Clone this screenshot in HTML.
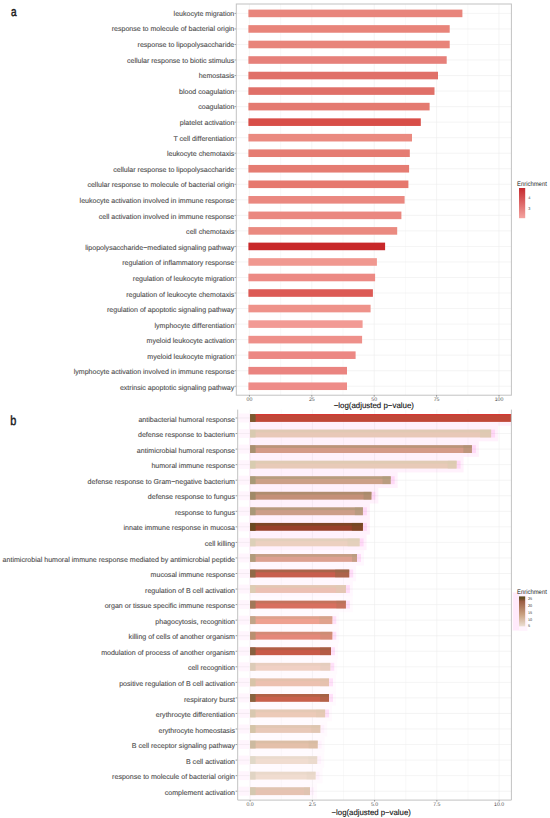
<!DOCTYPE html><html><head><meta charset="utf-8"><style>html,body{margin:0;padding:0;background:#fff;}svg{display:block;}text{font-family:"Liberation Sans",sans-serif;text-rendering:geometricPrecision;}</style></head><body>
<svg width="550" height="818" viewBox="0 0 550 818">
<rect x="0" y="0" width="550" height="818" fill="#fff"/>
<line x1="280.60" y1="4.0" x2="280.60" y2="395.2" stroke="#f3f3f3" stroke-width="0.5"/>
<line x1="343.00" y1="4.0" x2="343.00" y2="395.2" stroke="#f3f3f3" stroke-width="0.5"/>
<line x1="405.40" y1="4.0" x2="405.40" y2="395.2" stroke="#f3f3f3" stroke-width="0.5"/>
<line x1="467.80" y1="4.0" x2="467.80" y2="395.2" stroke="#f3f3f3" stroke-width="0.5"/>
<line x1="249.40" y1="4.0" x2="249.40" y2="395.2" stroke="#ededed" stroke-width="0.6"/>
<line x1="311.80" y1="4.0" x2="311.80" y2="395.2" stroke="#ededed" stroke-width="0.6"/>
<line x1="374.20" y1="4.0" x2="374.20" y2="395.2" stroke="#ededed" stroke-width="0.6"/>
<line x1="436.60" y1="4.0" x2="436.60" y2="395.2" stroke="#ededed" stroke-width="0.6"/>
<line x1="499.00" y1="4.0" x2="499.00" y2="395.2" stroke="#ededed" stroke-width="0.6"/>
<line x1="236.3" y1="13.40" x2="511.4" y2="13.40" stroke="#ededed" stroke-width="0.6"/>
<line x1="236.3" y1="28.94" x2="511.4" y2="28.94" stroke="#ededed" stroke-width="0.6"/>
<line x1="236.3" y1="44.47" x2="511.4" y2="44.47" stroke="#ededed" stroke-width="0.6"/>
<line x1="236.3" y1="60.01" x2="511.4" y2="60.01" stroke="#ededed" stroke-width="0.6"/>
<line x1="236.3" y1="75.54" x2="511.4" y2="75.54" stroke="#ededed" stroke-width="0.6"/>
<line x1="236.3" y1="91.08" x2="511.4" y2="91.08" stroke="#ededed" stroke-width="0.6"/>
<line x1="236.3" y1="106.61" x2="511.4" y2="106.61" stroke="#ededed" stroke-width="0.6"/>
<line x1="236.3" y1="122.15" x2="511.4" y2="122.15" stroke="#ededed" stroke-width="0.6"/>
<line x1="236.3" y1="137.68" x2="511.4" y2="137.68" stroke="#ededed" stroke-width="0.6"/>
<line x1="236.3" y1="153.22" x2="511.4" y2="153.22" stroke="#ededed" stroke-width="0.6"/>
<line x1="236.3" y1="168.75" x2="511.4" y2="168.75" stroke="#ededed" stroke-width="0.6"/>
<line x1="236.3" y1="184.28" x2="511.4" y2="184.28" stroke="#ededed" stroke-width="0.6"/>
<line x1="236.3" y1="199.82" x2="511.4" y2="199.82" stroke="#ededed" stroke-width="0.6"/>
<line x1="236.3" y1="215.36" x2="511.4" y2="215.36" stroke="#ededed" stroke-width="0.6"/>
<line x1="236.3" y1="230.89" x2="511.4" y2="230.89" stroke="#ededed" stroke-width="0.6"/>
<line x1="236.3" y1="246.43" x2="511.4" y2="246.43" stroke="#ededed" stroke-width="0.6"/>
<line x1="236.3" y1="261.96" x2="511.4" y2="261.96" stroke="#ededed" stroke-width="0.6"/>
<line x1="236.3" y1="277.50" x2="511.4" y2="277.50" stroke="#ededed" stroke-width="0.6"/>
<line x1="236.3" y1="293.03" x2="511.4" y2="293.03" stroke="#ededed" stroke-width="0.6"/>
<line x1="236.3" y1="308.56" x2="511.4" y2="308.56" stroke="#ededed" stroke-width="0.6"/>
<line x1="236.3" y1="324.10" x2="511.4" y2="324.10" stroke="#ededed" stroke-width="0.6"/>
<line x1="236.3" y1="339.63" x2="511.4" y2="339.63" stroke="#ededed" stroke-width="0.6"/>
<line x1="236.3" y1="355.17" x2="511.4" y2="355.17" stroke="#ededed" stroke-width="0.6"/>
<line x1="236.3" y1="370.70" x2="511.4" y2="370.70" stroke="#ededed" stroke-width="0.6"/>
<line x1="236.3" y1="386.24" x2="511.4" y2="386.24" stroke="#ededed" stroke-width="0.6"/>
<rect x="248.4" y="9.60" width="214.00" height="7.6" fill="#e8857c"/>
<text x="234.3" y="15.90" font-size="7.05" fill="#505050" stroke="#505050" stroke-width="0.12" text-anchor="end">leukocyte migration</text>
<line x1="234.6" y1="13.40" x2="236.3" y2="13.40" stroke="#333" stroke-width="0.5"/>
<rect x="248.4" y="25.14" width="201.30" height="7.6" fill="#e8847a"/>
<text x="234.3" y="31.49" font-size="7.05" fill="#505050" stroke="#505050" stroke-width="0.12" text-anchor="end">response to molecule of bacterial origin</text>
<line x1="234.6" y1="28.94" x2="236.3" y2="28.94" stroke="#333" stroke-width="0.5"/>
<rect x="248.4" y="40.67" width="201.30" height="7.6" fill="#e8847a"/>
<text x="234.3" y="47.08" font-size="7.05" fill="#505050" stroke="#505050" stroke-width="0.12" text-anchor="end">response to lipopolysaccharide</text>
<line x1="234.6" y1="44.47" x2="236.3" y2="44.47" stroke="#333" stroke-width="0.5"/>
<rect x="248.4" y="56.21" width="198.30" height="7.6" fill="#e6807a"/>
<text x="234.3" y="62.67" font-size="7.05" fill="#505050" stroke="#505050" stroke-width="0.12" text-anchor="end">cellular response to biotic stimulus</text>
<line x1="234.6" y1="60.01" x2="236.3" y2="60.01" stroke="#333" stroke-width="0.5"/>
<rect x="248.4" y="71.74" width="189.60" height="7.6" fill="#e07068"/>
<text x="234.3" y="78.26" font-size="7.05" fill="#505050" stroke="#505050" stroke-width="0.12" text-anchor="end">hemostasis</text>
<line x1="234.6" y1="75.54" x2="236.3" y2="75.54" stroke="#333" stroke-width="0.5"/>
<rect x="248.4" y="87.28" width="186.10" height="7.6" fill="#e07068"/>
<text x="234.3" y="93.84" font-size="7.05" fill="#505050" stroke="#505050" stroke-width="0.12" text-anchor="end">blood coagulation</text>
<line x1="234.6" y1="91.08" x2="236.3" y2="91.08" stroke="#333" stroke-width="0.5"/>
<rect x="248.4" y="102.81" width="181.20" height="7.6" fill="#e47a70"/>
<text x="234.3" y="109.43" font-size="7.05" fill="#505050" stroke="#505050" stroke-width="0.12" text-anchor="end">coagulation</text>
<line x1="234.6" y1="106.61" x2="236.3" y2="106.61" stroke="#333" stroke-width="0.5"/>
<rect x="248.4" y="118.35" width="172.40" height="7.6" fill="#d84e48"/>
<text x="234.3" y="125.02" font-size="7.05" fill="#505050" stroke="#505050" stroke-width="0.12" text-anchor="end">platelet activation</text>
<line x1="234.6" y1="122.15" x2="236.3" y2="122.15" stroke="#333" stroke-width="0.5"/>
<rect x="248.4" y="133.88" width="163.60" height="7.6" fill="#ea8a80"/>
<text x="234.3" y="140.61" font-size="7.05" fill="#505050" stroke="#505050" stroke-width="0.12" text-anchor="end">T cell differentiation</text>
<line x1="234.6" y1="137.68" x2="236.3" y2="137.68" stroke="#333" stroke-width="0.5"/>
<rect x="248.4" y="149.41" width="161.40" height="7.6" fill="#e57c72"/>
<text x="234.3" y="156.20" font-size="7.05" fill="#505050" stroke="#505050" stroke-width="0.12" text-anchor="end">leukocyte chemotaxis</text>
<line x1="234.6" y1="153.22" x2="236.3" y2="153.22" stroke="#333" stroke-width="0.5"/>
<rect x="248.4" y="164.95" width="160.70" height="7.6" fill="#e57c72"/>
<text x="234.3" y="171.79" font-size="7.05" fill="#505050" stroke="#505050" stroke-width="0.12" text-anchor="end">cellular response to lipopolysaccharide</text>
<line x1="234.6" y1="168.75" x2="236.3" y2="168.75" stroke="#333" stroke-width="0.5"/>
<rect x="248.4" y="180.48" width="160.00" height="7.6" fill="#e6786e"/>
<text x="234.3" y="187.38" font-size="7.05" fill="#505050" stroke="#505050" stroke-width="0.12" text-anchor="end">cellular response to molecule of bacterial origin</text>
<line x1="234.6" y1="184.28" x2="236.3" y2="184.28" stroke="#333" stroke-width="0.5"/>
<rect x="248.4" y="196.02" width="156.20" height="7.6" fill="#ea8880"/>
<text x="234.3" y="202.97" font-size="7.05" fill="#505050" stroke="#505050" stroke-width="0.12" text-anchor="end">leukocyte activation involved in immune response</text>
<line x1="234.6" y1="199.82" x2="236.3" y2="199.82" stroke="#333" stroke-width="0.5"/>
<rect x="248.4" y="211.56" width="153.00" height="7.6" fill="#ea8880"/>
<text x="234.3" y="218.56" font-size="7.05" fill="#505050" stroke="#505050" stroke-width="0.12" text-anchor="end">cell activation involved in immune response</text>
<line x1="234.6" y1="215.36" x2="236.3" y2="215.36" stroke="#333" stroke-width="0.5"/>
<rect x="248.4" y="227.09" width="148.80" height="7.6" fill="#ea8a80"/>
<text x="234.3" y="234.15" font-size="7.05" fill="#505050" stroke="#505050" stroke-width="0.12" text-anchor="end">cell chemotaxis</text>
<line x1="234.6" y1="230.89" x2="236.3" y2="230.89" stroke="#333" stroke-width="0.5"/>
<rect x="248.4" y="242.62" width="136.70" height="7.6" fill="#c8282a"/>
<text x="234.3" y="249.74" font-size="7.05" fill="#505050" stroke="#505050" stroke-width="0.12" text-anchor="end">lipopolysaccharide−mediated signaling pathway</text>
<line x1="234.6" y1="246.43" x2="236.3" y2="246.43" stroke="#333" stroke-width="0.5"/>
<rect x="248.4" y="258.16" width="128.50" height="7.6" fill="#f09890"/>
<text x="234.3" y="265.32" font-size="7.05" fill="#505050" stroke="#505050" stroke-width="0.12" text-anchor="end">regulation of inflammatory response</text>
<line x1="234.6" y1="261.96" x2="236.3" y2="261.96" stroke="#333" stroke-width="0.5"/>
<rect x="248.4" y="273.69" width="126.70" height="7.6" fill="#ec8a84"/>
<text x="234.3" y="280.91" font-size="7.05" fill="#505050" stroke="#505050" stroke-width="0.12" text-anchor="end">regulation of leukocyte migration</text>
<line x1="234.6" y1="277.50" x2="236.3" y2="277.50" stroke="#333" stroke-width="0.5"/>
<rect x="248.4" y="289.23" width="124.50" height="7.6" fill="#dc5a55"/>
<text x="234.3" y="296.50" font-size="7.05" fill="#505050" stroke="#505050" stroke-width="0.12" text-anchor="end">regulation of leukocyte chemotaxis</text>
<line x1="234.6" y1="293.03" x2="236.3" y2="293.03" stroke="#333" stroke-width="0.5"/>
<rect x="248.4" y="304.76" width="122.20" height="7.6" fill="#ee928a"/>
<text x="234.3" y="312.09" font-size="7.05" fill="#505050" stroke="#505050" stroke-width="0.12" text-anchor="end">regulation of apoptotic signaling pathway</text>
<line x1="234.6" y1="308.56" x2="236.3" y2="308.56" stroke="#333" stroke-width="0.5"/>
<rect x="248.4" y="320.30" width="114.20" height="7.6" fill="#f29a94"/>
<text x="234.3" y="327.68" font-size="7.05" fill="#505050" stroke="#505050" stroke-width="0.12" text-anchor="end">lymphocyte differentiation</text>
<line x1="234.6" y1="324.10" x2="236.3" y2="324.10" stroke="#333" stroke-width="0.5"/>
<rect x="248.4" y="335.83" width="113.70" height="7.6" fill="#ee908a"/>
<text x="234.3" y="343.27" font-size="7.05" fill="#505050" stroke="#505050" stroke-width="0.12" text-anchor="end">myeloid leukocyte activation</text>
<line x1="234.6" y1="339.63" x2="236.3" y2="339.63" stroke="#333" stroke-width="0.5"/>
<rect x="248.4" y="351.37" width="107.20" height="7.6" fill="#ec8884"/>
<text x="234.3" y="358.86" font-size="7.05" fill="#505050" stroke="#505050" stroke-width="0.12" text-anchor="end">myeloid leukocyte migration</text>
<line x1="234.6" y1="355.17" x2="236.3" y2="355.17" stroke="#333" stroke-width="0.5"/>
<rect x="248.4" y="366.90" width="98.60" height="7.6" fill="#ea8480"/>
<text x="234.3" y="374.45" font-size="7.05" fill="#505050" stroke="#505050" stroke-width="0.12" text-anchor="end">lymphocyte activation involved in immune response</text>
<line x1="234.6" y1="370.70" x2="236.3" y2="370.70" stroke="#333" stroke-width="0.5"/>
<rect x="248.4" y="382.44" width="98.60" height="7.6" fill="#ee8c88"/>
<text x="234.3" y="390.04" font-size="7.05" fill="#505050" stroke="#505050" stroke-width="0.12" text-anchor="end">extrinsic apoptotic signaling pathway</text>
<line x1="234.6" y1="386.24" x2="236.3" y2="386.24" stroke="#333" stroke-width="0.5"/>
<rect x="236.3" y="4.0" width="275.10" height="391.20" fill="none" stroke="#c2c2c2" stroke-width="1"/>
<line x1="249.40" y1="395.2" x2="249.40" y2="396.70" stroke="#333" stroke-width="0.5"/>
<text x="249.40" y="400.7" font-size="5.2" fill="#4d4d4d" text-anchor="middle">00</text>
<line x1="311.80" y1="395.2" x2="311.80" y2="396.70" stroke="#333" stroke-width="0.5"/>
<text x="311.80" y="400.7" font-size="5.2" fill="#4d4d4d" text-anchor="middle">25</text>
<line x1="374.20" y1="395.2" x2="374.20" y2="396.70" stroke="#333" stroke-width="0.5"/>
<text x="374.20" y="400.7" font-size="5.2" fill="#4d4d4d" text-anchor="middle">50</text>
<line x1="436.60" y1="395.2" x2="436.60" y2="396.70" stroke="#333" stroke-width="0.5"/>
<text x="436.60" y="400.7" font-size="5.2" fill="#4d4d4d" text-anchor="middle">75</text>
<line x1="499.00" y1="395.2" x2="499.00" y2="396.70" stroke="#333" stroke-width="0.5"/>
<text x="499.00" y="400.7" font-size="5.2" fill="#4d4d4d" text-anchor="middle">100</text>
<text x="373.8" y="408.3" font-size="7.9" fill="#111" stroke="#111" stroke-width="0.12" text-anchor="middle">−log(adjusted p−value)</text>
<defs><linearGradient id="ga" x1="0" y1="0" x2="0" y2="1"><stop offset="0" stop-color="#c62a2e"/><stop offset="1" stop-color="#f4a4a0"/></linearGradient>
<linearGradient id="gb" x1="0" y1="0" x2="0" y2="1"><stop offset="0" stop-color="#5a4a20"/><stop offset="0.08" stop-color="#6a4e26"/><stop offset="0.16" stop-color="#9a5c44"/><stop offset="0.6" stop-color="#c8a080"/><stop offset="1" stop-color="#ece0d4"/></linearGradient></defs>
<text x="517" y="186" font-size="6.5" fill="#222" textLength="29.8" lengthAdjust="spacingAndGlyphs">Enrichment</text>
<rect x="519" y="188" width="6.2" height="30.2" fill="url(#ga)"/>
<text x="528.3" y="198.6" font-size="3.8" fill="#333">4</text>
<text x="528.3" y="210.4" font-size="3.8" fill="#333">3</text>
<text x="0" y="15.6" font-size="12.8" fill="#1a1a1a" stroke="#1a1a1a" stroke-width="0.5" transform="translate(10.9,0) scale(0.78,1)">a</text>
<line x1="281.23" y1="409.6" x2="281.23" y2="800.1" stroke="#f3f3f3" stroke-width="0.5"/>
<line x1="343.48" y1="409.6" x2="343.48" y2="800.1" stroke="#f3f3f3" stroke-width="0.5"/>
<line x1="405.73" y1="409.6" x2="405.73" y2="800.1" stroke="#f3f3f3" stroke-width="0.5"/>
<line x1="467.98" y1="409.6" x2="467.98" y2="800.1" stroke="#f3f3f3" stroke-width="0.5"/>
<line x1="250.10" y1="409.6" x2="250.10" y2="800.1" stroke="#ededed" stroke-width="0.6"/>
<line x1="312.35" y1="409.6" x2="312.35" y2="800.1" stroke="#ededed" stroke-width="0.6"/>
<line x1="374.60" y1="409.6" x2="374.60" y2="800.1" stroke="#ededed" stroke-width="0.6"/>
<line x1="436.85" y1="409.6" x2="436.85" y2="800.1" stroke="#ededed" stroke-width="0.6"/>
<line x1="499.10" y1="409.6" x2="499.10" y2="800.1" stroke="#ededed" stroke-width="0.6"/>
<line x1="237.7" y1="418.00" x2="511.4" y2="418.00" stroke="#ededed" stroke-width="0.6"/>
<line x1="237.7" y1="433.55" x2="511.4" y2="433.55" stroke="#ededed" stroke-width="0.6"/>
<line x1="237.7" y1="449.10" x2="511.4" y2="449.10" stroke="#ededed" stroke-width="0.6"/>
<line x1="237.7" y1="464.65" x2="511.4" y2="464.65" stroke="#ededed" stroke-width="0.6"/>
<line x1="237.7" y1="480.20" x2="511.4" y2="480.20" stroke="#ededed" stroke-width="0.6"/>
<line x1="237.7" y1="495.75" x2="511.4" y2="495.75" stroke="#ededed" stroke-width="0.6"/>
<line x1="237.7" y1="511.30" x2="511.4" y2="511.30" stroke="#ededed" stroke-width="0.6"/>
<line x1="237.7" y1="526.85" x2="511.4" y2="526.85" stroke="#ededed" stroke-width="0.6"/>
<line x1="237.7" y1="542.40" x2="511.4" y2="542.40" stroke="#ededed" stroke-width="0.6"/>
<line x1="237.7" y1="557.95" x2="511.4" y2="557.95" stroke="#ededed" stroke-width="0.6"/>
<line x1="237.7" y1="573.50" x2="511.4" y2="573.50" stroke="#ededed" stroke-width="0.6"/>
<line x1="237.7" y1="589.05" x2="511.4" y2="589.05" stroke="#ededed" stroke-width="0.6"/>
<line x1="237.7" y1="604.60" x2="511.4" y2="604.60" stroke="#ededed" stroke-width="0.6"/>
<line x1="237.7" y1="620.15" x2="511.4" y2="620.15" stroke="#ededed" stroke-width="0.6"/>
<line x1="237.7" y1="635.70" x2="511.4" y2="635.70" stroke="#ededed" stroke-width="0.6"/>
<line x1="237.7" y1="651.25" x2="511.4" y2="651.25" stroke="#ededed" stroke-width="0.6"/>
<line x1="237.7" y1="666.80" x2="511.4" y2="666.80" stroke="#ededed" stroke-width="0.6"/>
<line x1="237.7" y1="682.35" x2="511.4" y2="682.35" stroke="#ededed" stroke-width="0.6"/>
<line x1="237.7" y1="697.90" x2="511.4" y2="697.90" stroke="#ededed" stroke-width="0.6"/>
<line x1="237.7" y1="713.45" x2="511.4" y2="713.45" stroke="#ededed" stroke-width="0.6"/>
<line x1="237.7" y1="729.00" x2="511.4" y2="729.00" stroke="#ededed" stroke-width="0.6"/>
<line x1="237.7" y1="744.55" x2="511.4" y2="744.55" stroke="#ededed" stroke-width="0.6"/>
<line x1="237.7" y1="760.10" x2="511.4" y2="760.10" stroke="#ededed" stroke-width="0.6"/>
<line x1="237.7" y1="775.65" x2="511.4" y2="775.65" stroke="#ededed" stroke-width="0.6"/>
<line x1="237.7" y1="791.20" x2="511.4" y2="791.20" stroke="#ededed" stroke-width="0.6"/>
<rect x="249.10" y="414.00" width="262.30" height="11.78" fill="#ff00d0" fill-opacity="0.055"/>
<rect x="238.70" y="413.50" width="10.40" height="9" fill="#ff00d0" fill-opacity="0.04"/>
<rect x="511.40" y="414.00" width="0.00" height="8" fill="#ff00d0" fill-opacity="0.1"/>
<rect x="249.10" y="425.78" width="249.00" height="15.55" fill="#ff00d0" fill-opacity="0.055"/>
<rect x="238.70" y="429.05" width="10.40" height="9" fill="#ff00d0" fill-opacity="0.04"/>
<rect x="491.10" y="429.55" width="4.00" height="8" fill="#ff00d0" fill-opacity="0.1"/>
<rect x="249.10" y="441.33" width="229.80" height="15.55" fill="#ff00d0" fill-opacity="0.055"/>
<rect x="238.70" y="444.60" width="10.40" height="9" fill="#ff00d0" fill-opacity="0.04"/>
<rect x="471.90" y="445.10" width="4.00" height="8" fill="#ff00d0" fill-opacity="0.1"/>
<rect x="249.10" y="456.88" width="214.50" height="15.55" fill="#ff00d0" fill-opacity="0.055"/>
<rect x="238.70" y="460.15" width="10.40" height="9" fill="#ff00d0" fill-opacity="0.04"/>
<rect x="456.60" y="460.65" width="4.00" height="8" fill="#ff00d0" fill-opacity="0.1"/>
<rect x="249.10" y="472.43" width="148.60" height="15.55" fill="#ff00d0" fill-opacity="0.055"/>
<rect x="238.70" y="475.70" width="10.40" height="9" fill="#ff00d0" fill-opacity="0.04"/>
<rect x="390.70" y="476.20" width="4.00" height="8" fill="#ff00d0" fill-opacity="0.1"/>
<rect x="249.10" y="487.98" width="129.30" height="15.55" fill="#ff00d0" fill-opacity="0.055"/>
<rect x="238.70" y="491.25" width="10.40" height="9" fill="#ff00d0" fill-opacity="0.04"/>
<rect x="371.40" y="491.75" width="4.00" height="8" fill="#ff00d0" fill-opacity="0.1"/>
<rect x="249.10" y="503.53" width="120.80" height="15.55" fill="#ff00d0" fill-opacity="0.055"/>
<rect x="238.70" y="506.80" width="10.40" height="9" fill="#ff00d0" fill-opacity="0.04"/>
<rect x="362.90" y="507.30" width="4.00" height="8" fill="#ff00d0" fill-opacity="0.1"/>
<rect x="249.10" y="519.08" width="120.80" height="15.55" fill="#ff00d0" fill-opacity="0.055"/>
<rect x="238.70" y="522.35" width="10.40" height="9" fill="#ff00d0" fill-opacity="0.04"/>
<rect x="362.90" y="522.85" width="4.00" height="8" fill="#ff00d0" fill-opacity="0.1"/>
<rect x="249.10" y="534.62" width="117.50" height="15.55" fill="#ff00d0" fill-opacity="0.055"/>
<rect x="238.70" y="537.90" width="10.40" height="9" fill="#ff00d0" fill-opacity="0.04"/>
<rect x="359.60" y="538.40" width="4.00" height="8" fill="#ff00d0" fill-opacity="0.1"/>
<rect x="249.10" y="550.18" width="114.90" height="15.55" fill="#ff00d0" fill-opacity="0.03"/>
<rect x="238.70" y="553.45" width="10.40" height="9" fill="#ff00d0" fill-opacity="0.04"/>
<rect x="357.00" y="553.95" width="4.00" height="8" fill="#ff00d0" fill-opacity="0.1"/>
<rect x="249.10" y="565.73" width="107.10" height="15.55" fill="#ff00d0" fill-opacity="0.03"/>
<rect x="238.70" y="569.00" width="10.40" height="9" fill="#ff00d0" fill-opacity="0.04"/>
<rect x="349.20" y="569.50" width="4.00" height="8" fill="#ff00d0" fill-opacity="0.1"/>
<rect x="249.10" y="581.27" width="103.80" height="15.55" fill="#ff00d0" fill-opacity="0.03"/>
<rect x="238.70" y="584.55" width="10.40" height="9" fill="#ff00d0" fill-opacity="0.04"/>
<rect x="345.90" y="585.05" width="4.00" height="8" fill="#ff00d0" fill-opacity="0.1"/>
<rect x="249.10" y="596.83" width="103.80" height="15.55" fill="#ff00d0" fill-opacity="0.018"/>
<rect x="238.70" y="600.10" width="10.40" height="9" fill="#ff00d0" fill-opacity="0.04"/>
<rect x="345.90" y="600.60" width="4.00" height="8" fill="#ff00d0" fill-opacity="0.1"/>
<rect x="249.10" y="612.38" width="90.20" height="15.55" fill="#ff00d0" fill-opacity="0.018"/>
<rect x="238.70" y="615.65" width="10.40" height="9" fill="#ff00d0" fill-opacity="0.04"/>
<rect x="332.30" y="616.15" width="4.00" height="8" fill="#ff00d0" fill-opacity="0.1"/>
<rect x="249.10" y="627.93" width="90.20" height="15.55" fill="#ff00d0" fill-opacity="0.018"/>
<rect x="238.70" y="631.20" width="10.40" height="9" fill="#ff00d0" fill-opacity="0.04"/>
<rect x="332.30" y="631.70" width="4.00" height="8" fill="#ff00d0" fill-opacity="0.1"/>
<rect x="249.10" y="643.48" width="88.90" height="15.55" fill="#ff00d0" fill-opacity="0.018"/>
<rect x="238.70" y="646.75" width="10.40" height="9" fill="#ff00d0" fill-opacity="0.04"/>
<rect x="331.00" y="647.25" width="4.00" height="8" fill="#ff00d0" fill-opacity="0.1"/>
<rect x="249.10" y="659.02" width="88.20" height="15.55" fill="#ff00d0" fill-opacity="0.018"/>
<rect x="238.70" y="662.30" width="10.40" height="9" fill="#ff00d0" fill-opacity="0.04"/>
<rect x="330.30" y="662.80" width="4.00" height="8" fill="#ff00d0" fill-opacity="0.1"/>
<rect x="249.10" y="674.58" width="86.90" height="15.55" fill="#ff00d0" fill-opacity="0.018"/>
<rect x="238.70" y="677.85" width="10.40" height="9" fill="#ff00d0" fill-opacity="0.04"/>
<rect x="329.00" y="678.35" width="4.00" height="8" fill="#ff00d0" fill-opacity="0.1"/>
<rect x="249.10" y="690.13" width="86.90" height="15.55" fill="#ff00d0" fill-opacity="0.018"/>
<rect x="238.70" y="693.40" width="10.40" height="9" fill="#ff00d0" fill-opacity="0.04"/>
<rect x="329.00" y="693.90" width="4.00" height="8" fill="#ff00d0" fill-opacity="0.1"/>
<rect x="249.10" y="705.68" width="83.00" height="15.55" fill="#ff00d0" fill-opacity="0.018"/>
<rect x="238.70" y="708.95" width="10.40" height="9" fill="#ff00d0" fill-opacity="0.04"/>
<rect x="325.10" y="709.45" width="4.00" height="8" fill="#ff00d0" fill-opacity="0.1"/>
<rect x="249.10" y="721.23" width="78.20" height="15.55" fill="#ff00d0" fill-opacity="0.018"/>
<rect x="238.70" y="724.50" width="10.40" height="9" fill="#ff00d0" fill-opacity="0.04"/>
<rect x="320.30" y="725.00" width="4.00" height="8" fill="#ff00d0" fill-opacity="0.03"/>
<rect x="249.10" y="736.77" width="75.60" height="15.55" fill="#ff00d0" fill-opacity="0.018"/>
<rect x="238.70" y="740.05" width="10.40" height="9" fill="#ff00d0" fill-opacity="0.04"/>
<rect x="317.70" y="740.55" width="4.00" height="8" fill="#ff00d0" fill-opacity="0.03"/>
<rect x="249.10" y="752.33" width="75.10" height="15.55" fill="#ff00d0" fill-opacity="0.018"/>
<rect x="238.70" y="755.60" width="10.40" height="9" fill="#ff00d0" fill-opacity="0.04"/>
<rect x="317.20" y="756.10" width="4.00" height="8" fill="#ff00d0" fill-opacity="0.03"/>
<rect x="249.10" y="767.88" width="73.50" height="15.55" fill="#ff00d0" fill-opacity="0.018"/>
<rect x="238.70" y="771.15" width="10.40" height="9" fill="#ff00d0" fill-opacity="0.04"/>
<rect x="315.60" y="771.65" width="4.00" height="8" fill="#ff00d0" fill-opacity="0.03"/>
<rect x="249.10" y="783.43" width="67.90" height="15.55" fill="#ff00d0" fill-opacity="0.018"/>
<rect x="238.70" y="786.70" width="10.40" height="9" fill="#ff00d0" fill-opacity="0.04"/>
<rect x="310.00" y="787.20" width="4.00" height="8" fill="#ff00d0" fill-opacity="0.03"/>
<rect x="250.1" y="414.10" width="261.30" height="7.8" fill="#c04838"/>
<rect x="250.1" y="414.10" width="5.5" height="7.8" fill="#7a5a30"/>
<rect x="255.6" y="414.10" width="255.80" height="1" fill="#d83530"/>
<text x="235.0" y="421.60" font-size="7.07" fill="#505050" stroke="#505050" stroke-width="0.12" text-anchor="end">antibacterial humoral response</text>
<line x1="235.6" y1="418.00" x2="237.7" y2="418.00" stroke="#333" stroke-width="0.5"/>
<rect x="250.1" y="429.65" width="241.00" height="7.8" fill="#e8c8b8"/>
<rect x="250.1" y="429.65" width="5.5" height="7.8" fill="#d8cab0"/>
<rect x="480.10" y="429.65" width="11" height="7.8" fill="#d8cab0" fill-opacity="0.5"/>
<rect x="255.6" y="429.65" width="235.50" height="2.7" fill="#d8cab0" fill-opacity="0.55"/>
<text x="235.0" y="437.15" font-size="7.07" fill="#505050" stroke="#505050" stroke-width="0.12" text-anchor="end">defense response to bacterium</text>
<line x1="235.6" y1="433.55" x2="237.7" y2="433.55" stroke="#333" stroke-width="0.5"/>
<rect x="250.1" y="445.20" width="221.80" height="7.8" fill="#d49a88"/>
<rect x="250.1" y="445.20" width="5.5" height="7.8" fill="#a89070"/>
<rect x="463.40" y="445.20" width="8.5" height="7.8" fill="#a89070" fill-opacity="0.5"/>
<rect x="255.6" y="445.20" width="216.30" height="2.7" fill="#a89070" fill-opacity="0.55"/>
<text x="235.0" y="452.70" font-size="7.07" fill="#505050" stroke="#505050" stroke-width="0.12" text-anchor="end">antimicrobial humoral response</text>
<line x1="235.6" y1="449.10" x2="237.7" y2="449.10" stroke="#333" stroke-width="0.5"/>
<rect x="250.1" y="460.75" width="206.50" height="7.8" fill="#e8cab8"/>
<rect x="250.1" y="460.75" width="5.5" height="7.8" fill="#d8ccb0"/>
<rect x="447.80" y="460.75" width="8.8" height="7.8" fill="#d8ccb0" fill-opacity="0.5"/>
<rect x="255.6" y="460.75" width="201.00" height="2.7" fill="#d8ccb0" fill-opacity="0.55"/>
<text x="235.0" y="468.25" font-size="7.07" fill="#505050" stroke="#505050" stroke-width="0.12" text-anchor="end">humoral immune response</text>
<line x1="235.6" y1="464.65" x2="237.7" y2="464.65" stroke="#333" stroke-width="0.5"/>
<rect x="250.1" y="476.30" width="140.60" height="7.8" fill="#cca088"/>
<rect x="250.1" y="476.30" width="5.5" height="7.8" fill="#a89a78"/>
<rect x="382.50" y="476.30" width="8.2" height="7.8" fill="#a89a78" fill-opacity="0.5"/>
<rect x="255.6" y="476.30" width="135.10" height="2.7" fill="#a89a78" fill-opacity="0.55"/>
<text x="235.0" y="483.80" font-size="7.07" fill="#505050" stroke="#505050" stroke-width="0.12" text-anchor="end">defense response to Gram−negative bacterium</text>
<line x1="235.6" y1="480.20" x2="237.7" y2="480.20" stroke="#333" stroke-width="0.5"/>
<rect x="250.1" y="491.85" width="121.30" height="7.8" fill="#c49078"/>
<rect x="250.1" y="491.85" width="5.5" height="7.8" fill="#a08a68"/>
<rect x="363.60" y="491.85" width="7.8" height="7.8" fill="#a08a68" fill-opacity="0.5"/>
<rect x="255.6" y="491.85" width="115.80" height="2.7" fill="#a08a68" fill-opacity="0.55"/>
<text x="235.0" y="499.35" font-size="7.07" fill="#505050" stroke="#505050" stroke-width="0.12" text-anchor="end">defense response to fungus</text>
<line x1="235.6" y1="495.75" x2="237.7" y2="495.75" stroke="#333" stroke-width="0.5"/>
<rect x="250.1" y="507.40" width="112.80" height="7.8" fill="#cc9e88"/>
<rect x="250.1" y="507.40" width="5.5" height="7.8" fill="#a89878"/>
<rect x="354.90" y="507.40" width="8" height="7.8" fill="#a89878" fill-opacity="0.5"/>
<rect x="255.6" y="507.40" width="107.30" height="2.7" fill="#a89878" fill-opacity="0.55"/>
<text x="235.0" y="514.90" font-size="7.07" fill="#505050" stroke="#505050" stroke-width="0.12" text-anchor="end">response to fungus</text>
<line x1="235.6" y1="511.30" x2="237.7" y2="511.30" stroke="#333" stroke-width="0.5"/>
<rect x="250.1" y="522.95" width="112.80" height="7.8" fill="#98402a"/>
<rect x="250.1" y="522.95" width="5.5" height="7.8" fill="#6a4a22"/>
<rect x="351.90" y="522.95" width="11" height="7.8" fill="#6a4a22" fill-opacity="0.5"/>
<rect x="255.6" y="522.95" width="107.30" height="2.7" fill="#6a4a22" fill-opacity="0.55"/>
<text x="235.0" y="530.45" font-size="7.07" fill="#505050" stroke="#505050" stroke-width="0.12" text-anchor="end">innate immune response in mucosa</text>
<line x1="235.6" y1="526.85" x2="237.7" y2="526.85" stroke="#333" stroke-width="0.5"/>
<rect x="250.1" y="538.50" width="109.50" height="7.8" fill="#ecd0c0"/>
<rect x="250.1" y="538.50" width="5.5" height="7.8" fill="#dcd0b8"/>
<rect x="347.60" y="538.50" width="12" height="7.8" fill="#dcd0b8" fill-opacity="0.5"/>
<rect x="255.6" y="538.50" width="104.00" height="2.7" fill="#dcd0b8" fill-opacity="0.55"/>
<text x="235.0" y="546.00" font-size="7.07" fill="#505050" stroke="#505050" stroke-width="0.12" text-anchor="end">cell killing</text>
<line x1="235.6" y1="542.40" x2="237.7" y2="542.40" stroke="#333" stroke-width="0.5"/>
<rect x="250.1" y="554.05" width="106.90" height="7.8" fill="#dca090"/>
<rect x="250.1" y="554.05" width="5.5" height="7.8" fill="#b09c7c"/>
<rect x="352.00" y="554.05" width="5" height="7.8" fill="#b09c7c" fill-opacity="0.5"/>
<rect x="255.6" y="554.05" width="101.40" height="2.7" fill="#b09c7c" fill-opacity="0.55"/>
<text x="235.0" y="561.55" font-size="7.07" fill="#505050" stroke="#505050" stroke-width="0.12" text-anchor="end">antimicrobial humoral immune response mediated by antimicrobial peptide</text>
<line x1="235.6" y1="557.95" x2="237.7" y2="557.95" stroke="#333" stroke-width="0.5"/>
<rect x="250.1" y="569.60" width="99.10" height="7.8" fill="#c85e4e"/>
<rect x="250.1" y="569.60" width="5.5" height="7.8" fill="#906a48"/>
<rect x="335.20" y="569.60" width="14" height="7.8" fill="#906a48" fill-opacity="0.5"/>
<rect x="255.6" y="569.60" width="93.60" height="2.7" fill="#906a48" fill-opacity="0.55"/>
<text x="235.0" y="577.10" font-size="7.07" fill="#505050" stroke="#505050" stroke-width="0.12" text-anchor="end">mucosal immune response</text>
<line x1="235.6" y1="573.50" x2="237.7" y2="573.50" stroke="#333" stroke-width="0.5"/>
<rect x="250.1" y="585.15" width="95.80" height="7.8" fill="#ecc0b4"/>
<rect x="250.1" y="585.15" width="5.5" height="7.8" fill="#dcccb4"/>
<rect x="335.90" y="585.15" width="10" height="7.8" fill="#dcccb4" fill-opacity="0.5"/>
<rect x="255.6" y="585.15" width="90.30" height="2.7" fill="#dcccb4" fill-opacity="0.55"/>
<text x="235.0" y="592.65" font-size="7.07" fill="#505050" stroke="#505050" stroke-width="0.12" text-anchor="end">regulation of B cell activation</text>
<line x1="235.6" y1="589.05" x2="237.7" y2="589.05" stroke="#333" stroke-width="0.5"/>
<rect x="250.1" y="600.70" width="95.80" height="7.8" fill="#d87060"/>
<rect x="250.1" y="600.70" width="5.5" height="7.8" fill="#a07858"/>
<rect x="336.40" y="600.70" width="9.5" height="7.8" fill="#a07858" fill-opacity="0.3"/>
<rect x="255.6" y="600.70" width="90.30" height="2.7" fill="#a07858" fill-opacity="0.35"/>
<text x="235.0" y="608.20" font-size="7.07" fill="#505050" stroke="#505050" stroke-width="0.12" text-anchor="end">organ or tissue specific immune response</text>
<line x1="235.6" y1="604.60" x2="237.7" y2="604.60" stroke="#333" stroke-width="0.5"/>
<rect x="250.1" y="616.25" width="82.20" height="7.8" fill="#eea090"/>
<rect x="250.1" y="616.25" width="5.5" height="7.8" fill="#c0a488"/>
<rect x="319.30" y="616.25" width="13" height="7.8" fill="#c0a488" fill-opacity="0.3"/>
<rect x="255.6" y="616.25" width="76.70" height="2.7" fill="#c0a488" fill-opacity="0.35"/>
<text x="235.0" y="623.75" font-size="7.07" fill="#505050" stroke="#505050" stroke-width="0.12" text-anchor="end">phagocytosis, recognition</text>
<line x1="235.6" y1="620.15" x2="237.7" y2="620.15" stroke="#333" stroke-width="0.5"/>
<rect x="250.1" y="631.80" width="82.20" height="7.8" fill="#e4887a"/>
<rect x="250.1" y="631.80" width="5.5" height="7.8" fill="#b89070"/>
<rect x="320.30" y="631.80" width="12" height="7.8" fill="#b89070" fill-opacity="0.3"/>
<rect x="255.6" y="631.80" width="76.70" height="2.7" fill="#b89070" fill-opacity="0.35"/>
<text x="235.0" y="639.30" font-size="7.07" fill="#505050" stroke="#505050" stroke-width="0.12" text-anchor="end">killing of cells of another organism</text>
<line x1="235.6" y1="635.70" x2="237.7" y2="635.70" stroke="#333" stroke-width="0.5"/>
<rect x="250.1" y="647.35" width="80.90" height="7.8" fill="#c85a48"/>
<rect x="250.1" y="647.35" width="5.5" height="7.8" fill="#886040"/>
<rect x="320.00" y="647.35" width="11" height="7.8" fill="#886040" fill-opacity="0.3"/>
<rect x="255.6" y="647.35" width="75.40" height="2.7" fill="#886040" fill-opacity="0.35"/>
<text x="235.0" y="654.85" font-size="7.07" fill="#505050" stroke="#505050" stroke-width="0.12" text-anchor="end">modulation of process of another organism</text>
<line x1="235.6" y1="651.25" x2="237.7" y2="651.25" stroke="#333" stroke-width="0.5"/>
<rect x="250.1" y="662.90" width="80.20" height="7.8" fill="#f0d0c4"/>
<rect x="250.1" y="662.90" width="5.5" height="7.8" fill="#dccbb8"/>
<rect x="320.30" y="662.90" width="10" height="7.8" fill="#dccbb8" fill-opacity="0.3"/>
<rect x="255.6" y="662.90" width="74.70" height="2.7" fill="#dccbb8" fill-opacity="0.35"/>
<text x="235.0" y="670.40" font-size="7.07" fill="#505050" stroke="#505050" stroke-width="0.12" text-anchor="end">cell recognition</text>
<line x1="235.6" y1="666.80" x2="237.7" y2="666.80" stroke="#333" stroke-width="0.5"/>
<rect x="250.1" y="678.45" width="78.90" height="7.8" fill="#ecc0b0"/>
<rect x="250.1" y="678.45" width="5.5" height="7.8" fill="#d8c4a8"/>
<rect x="320.00" y="678.45" width="9" height="7.8" fill="#d8c4a8" fill-opacity="0.3"/>
<rect x="255.6" y="678.45" width="73.40" height="2.7" fill="#d8c4a8" fill-opacity="0.35"/>
<text x="235.0" y="685.95" font-size="7.07" fill="#505050" stroke="#505050" stroke-width="0.12" text-anchor="end">positive regulation of B cell activation</text>
<line x1="235.6" y1="682.35" x2="237.7" y2="682.35" stroke="#333" stroke-width="0.5"/>
<rect x="250.1" y="694.00" width="78.90" height="7.8" fill="#c8604c"/>
<rect x="250.1" y="694.00" width="5.5" height="7.8" fill="#886440"/>
<rect x="320.00" y="694.00" width="9" height="7.8" fill="#886440" fill-opacity="0.3"/>
<rect x="255.6" y="694.00" width="73.40" height="2.7" fill="#886440" fill-opacity="0.35"/>
<text x="235.0" y="701.50" font-size="7.07" fill="#505050" stroke="#505050" stroke-width="0.12" text-anchor="end">respiratory burst</text>
<line x1="235.6" y1="697.90" x2="237.7" y2="697.90" stroke="#333" stroke-width="0.5"/>
<rect x="250.1" y="709.55" width="75.00" height="7.8" fill="#eccab8"/>
<rect x="250.1" y="709.55" width="5.5" height="7.8" fill="#d8c8b0"/>
<rect x="316.10" y="709.55" width="9" height="7.8" fill="#d8c8b0" fill-opacity="0.3"/>
<rect x="255.6" y="709.55" width="69.50" height="2.7" fill="#d8c8b0" fill-opacity="0.35"/>
<text x="235.0" y="717.05" font-size="7.07" fill="#505050" stroke="#505050" stroke-width="0.12" text-anchor="end">erythrocyte differentiation</text>
<line x1="235.6" y1="713.45" x2="237.7" y2="713.45" stroke="#333" stroke-width="0.5"/>
<rect x="250.1" y="725.10" width="70.20" height="7.8" fill="#e8c8b8"/>
<rect x="250.1" y="725.10" width="5.5" height="7.8" fill="#d4c4a8"/>
<rect x="311.30" y="725.10" width="9" height="7.8" fill="#d4c4a8" fill-opacity="0.3"/>
<rect x="255.6" y="725.10" width="64.70" height="2.7" fill="#d4c4a8" fill-opacity="0.35"/>
<text x="235.0" y="732.60" font-size="7.07" fill="#505050" stroke="#505050" stroke-width="0.12" text-anchor="end">erythrocyte homeostasis</text>
<line x1="235.6" y1="729.00" x2="237.7" y2="729.00" stroke="#333" stroke-width="0.5"/>
<rect x="250.1" y="740.65" width="67.60" height="7.8" fill="#e4c0aa"/>
<rect x="250.1" y="740.65" width="5.5" height="7.8" fill="#ccbaa0"/>
<rect x="308.70" y="740.65" width="9" height="7.8" fill="#ccbaa0" fill-opacity="0.3"/>
<rect x="255.6" y="740.65" width="62.10" height="2.7" fill="#ccbaa0" fill-opacity="0.35"/>
<text x="235.0" y="748.15" font-size="7.07" fill="#505050" stroke="#505050" stroke-width="0.12" text-anchor="end">B cell receptor signaling pathway</text>
<line x1="235.6" y1="744.55" x2="237.7" y2="744.55" stroke="#333" stroke-width="0.5"/>
<rect x="250.1" y="756.20" width="67.10" height="7.8" fill="#f0dcd0"/>
<rect x="250.1" y="756.20" width="5.5" height="7.8" fill="#e0d8c8"/>
<rect x="308.20" y="756.20" width="9" height="7.8" fill="#e0d8c8" fill-opacity="0.3"/>
<rect x="255.6" y="756.20" width="61.60" height="2.7" fill="#e0d8c8" fill-opacity="0.35"/>
<text x="235.0" y="763.70" font-size="7.07" fill="#505050" stroke="#505050" stroke-width="0.12" text-anchor="end">B cell activation</text>
<line x1="235.6" y1="760.10" x2="237.7" y2="760.10" stroke="#333" stroke-width="0.5"/>
<rect x="250.1" y="771.75" width="65.50" height="7.8" fill="#f0dcd0"/>
<rect x="250.1" y="771.75" width="5.5" height="7.8" fill="#e0d4c4"/>
<rect x="306.60" y="771.75" width="9" height="7.8" fill="#e0d4c4" fill-opacity="0.3"/>
<rect x="255.6" y="771.75" width="60.00" height="2.7" fill="#e0d4c4" fill-opacity="0.35"/>
<text x="235.0" y="779.25" font-size="7.07" fill="#505050" stroke="#505050" stroke-width="0.12" text-anchor="end">response to molecule of bacterial origin</text>
<line x1="235.6" y1="775.65" x2="237.7" y2="775.65" stroke="#333" stroke-width="0.5"/>
<rect x="250.1" y="787.30" width="59.90" height="7.8" fill="#e6c2b2"/>
<rect x="250.1" y="787.30" width="5.5" height="7.8" fill="#d4c8b0"/>
<rect x="304.00" y="787.30" width="6" height="7.8" fill="#d4c8b0" fill-opacity="0.3"/>
<rect x="255.6" y="787.30" width="54.40" height="2.7" fill="#d4c8b0" fill-opacity="0.35"/>
<text x="235.0" y="794.80" font-size="7.07" fill="#505050" stroke="#505050" stroke-width="0.12" text-anchor="end">complement activation</text>
<line x1="235.6" y1="791.20" x2="237.7" y2="791.20" stroke="#333" stroke-width="0.5"/>
<line x1="237.7" y1="409.6" x2="237.7" y2="800.1" stroke="#c2c2c2" stroke-width="1"/>
<line x1="511.4" y1="409.6" x2="511.4" y2="800.1" stroke="#c2c2c2" stroke-width="1"/>
<line x1="237.7" y1="800.1" x2="511.4" y2="800.1" stroke="#c2c2c2" stroke-width="1"/>
<line x1="250.10" y1="800.1" x2="250.10" y2="801.60" stroke="#333" stroke-width="0.5"/>
<text x="250.10" y="806.1" font-size="5.2" fill="#4d4d4d" text-anchor="middle">0.0</text>
<line x1="312.35" y1="800.1" x2="312.35" y2="801.60" stroke="#333" stroke-width="0.5"/>
<text x="312.35" y="806.1" font-size="5.2" fill="#4d4d4d" text-anchor="middle">2.5</text>
<line x1="374.60" y1="800.1" x2="374.60" y2="801.60" stroke="#333" stroke-width="0.5"/>
<text x="374.60" y="806.1" font-size="5.2" fill="#4d4d4d" text-anchor="middle">5.0</text>
<line x1="436.85" y1="800.1" x2="436.85" y2="801.60" stroke="#333" stroke-width="0.5"/>
<text x="436.85" y="806.1" font-size="5.2" fill="#4d4d4d" text-anchor="middle">7.5</text>
<line x1="499.10" y1="800.1" x2="499.10" y2="801.60" stroke="#333" stroke-width="0.5"/>
<text x="499.10" y="806.1" font-size="5.2" fill="#4d4d4d" text-anchor="middle">10.0</text>
<text x="371.2" y="814.5" font-size="7.8" fill="#111" stroke="#111" stroke-width="0.12" text-anchor="middle">−log(adjusted p−value)</text>
<rect x="512.5" y="592" width="15" height="39" fill="#ff00d0" fill-opacity="0.045"/><rect x="513" y="593" width="6" height="37" fill="#ff00d0" fill-opacity="0.04"/>
<text x="517" y="593.8" font-size="6.5" fill="#222" textLength="29.8" lengthAdjust="spacingAndGlyphs">Enrichment</text>
<rect x="519" y="596.4" width="6.2" height="30" fill="url(#gb)"/>
<text x="528" y="600" font-size="3.8" fill="#333">25</text>
<text x="528" y="606.9" font-size="3.8" fill="#333">20</text>
<text x="528" y="613.7" font-size="3.8" fill="#333">15</text>
<text x="528" y="620.5" font-size="3.8" fill="#333">10</text>
<text x="528" y="627.4" font-size="3.8" fill="#333">5</text>
<text x="0" y="424.5" font-size="13.3" fill="#1a1a1a" stroke="#1a1a1a" stroke-width="0.45" transform="translate(10.2,0) scale(0.82,1)">b</text>
</svg></body></html>
